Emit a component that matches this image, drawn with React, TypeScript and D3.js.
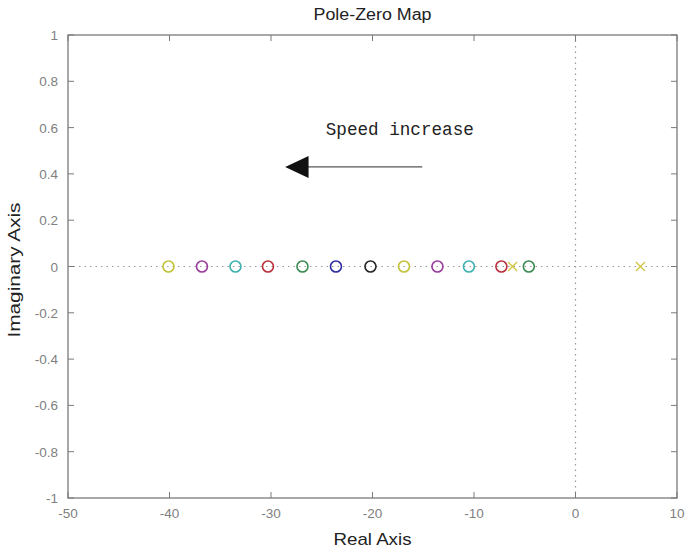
import React from "react";
import * as d3 from "d3";

const zeroReal = [-40.1, -36.8, -33.5, -30.3, -26.9, -23.6, -20.2, -16.9, -13.6, -10.5, -7.3, -4.6];
const zeroColors = ["#c2c23a", "#9a3c9e", "#3fb0b0", "#b8303c", "#3a8a52", "#2c2ca0", "#262626", "#c2c23a", "#9a3c9e", "#3fb0b0", "#b8303c", "#3a8a52"];
const poleReal = [-6.2, 6.4];
const poleColors = ["#d4c84a", "#d4c84a"];
const xTicks = [-50, -40, -30, -20, -10, 0, 10];
const yTicks = [-1, -0.8, -0.6, -0.4, -0.2, 0, 0.2, 0.4, 0.6, 0.8, 1];

const W = 685, H = 550;
const L = 68, R = 677, T = 35, B = 498;

export default function App() {
  const x = d3.scaleLinear().domain([-50, 10]).range([L, R]);
  const y = d3.scaleLinear().domain([-1, 1]).range([B, T]);
  const axisCol = "#7a7a7a";
  const tickCol = "#808080";
  const sans = "Liberation Sans, Arial, sans-serif";
  const fmt = (v: number) => (Math.abs(v) < 1e-9 ? "0" : String(+v.toFixed(1)));
  return (
    <svg width={W} height={H} style={{ position: "absolute", left: 0, top: 0, background: "#fff" }}>
      <rect x={0} y={0} width={W} height={H} fill="#fff" />
      {/* dotted zero lines */}
      <line x1={L} x2={R} y1={y(0)} y2={y(0)} stroke="#999" strokeWidth={1.2} strokeDasharray="1.5 4" />
      <line x1={x(0)} x2={x(0)} y1={T} y2={B} stroke="#999" strokeWidth={1.2} strokeDasharray="1.5 4" />
      {/* frame */}
      <rect x={L} y={T} width={R - L} height={B - T} fill="none" stroke={axisCol} strokeWidth={1.3} />
      {xTicks.map((t) => (
        <g key={"x" + t}>
          <line x1={x(t)} x2={x(t)} y1={B} y2={B - 6} stroke={axisCol} />
          <line x1={x(t)} x2={x(t)} y1={T} y2={T + 6} stroke={axisCol} />
          <text x={x(t)} y={B + 20} textAnchor="middle" fontFamily={sans} fontSize={13.5} fill={tickCol}>{fmt(t)}</text>
        </g>
      ))}
      {yTicks.map((t) => (
        <g key={"y" + t}>
          <line x1={L} x2={L + 6} y1={y(t)} y2={y(t)} stroke={axisCol} />
          <line x1={R} x2={R - 6} y1={y(t)} y2={y(t)} stroke={axisCol} />
          <text x={L - 10} y={y(t) + 5} textAnchor="end" fontFamily={sans} fontSize={13.5} fill={tickCol}>{fmt(t)}</text>
        </g>
      ))}
      {/* zeros */}
      {zeroReal.map((v, i) => (
        <circle key={"z" + i} cx={x(v)} cy={y(0)} r={5.5} fill="none" stroke={zeroColors[i]} strokeWidth={1.6} />
      ))}
      {/* poles */}
      {poleReal.map((v, i) => (
        <g key={"p" + i} stroke={poleColors[i]} strokeWidth={1.4}>
          <line x1={x(v) - 4.5} x2={x(v) + 4.5} y1={y(0) - 4.5} y2={y(0) + 4.5} />
          <line x1={x(v) - 4.5} x2={x(v) + 4.5} y1={y(0) + 4.5} y2={y(0) - 4.5} />
        </g>
      ))}
      {/* annotation */}
      <text x={x(-24.6)} y={y(0.57)} fontFamily="Liberation Mono, Courier New, monospace" fontSize={17.5} fill="#222" textLength={148} lengthAdjust="spacingAndGlyphs">Speed increase</text>
      <line x1={x(-15.1)} x2={x(-27)} y1={y(0.43)} y2={y(0.43)} stroke="#555" strokeWidth={1.3} />
      <path d={`M${x(-28.6)},${y(0.43)} L${x(-26.3)},${y(0.43) - 11} L${x(-26.3)},${y(0.43) + 11} Z`} fill="#111" />
      {/* titles */}
      <text x={(L + R) / 2} y={20} textAnchor="middle" fontFamily={sans} fontSize={16} fill="#222" textLength={118} lengthAdjust="spacingAndGlyphs">Pole-Zero Map</text>
      <text x={(L + R) / 2} y={545} textAnchor="middle" fontFamily={sans} fontSize={17} fill="#222" textLength={78} lengthAdjust="spacingAndGlyphs">Real Axis</text>
      <text transform={`translate(20,${270}) rotate(-90)`} textAnchor="middle" fontFamily={sans} fontSize={17} fill="#222" textLength={135} lengthAdjust="spacingAndGlyphs">Imaginary Axis</text>
    </svg>
  );
}
